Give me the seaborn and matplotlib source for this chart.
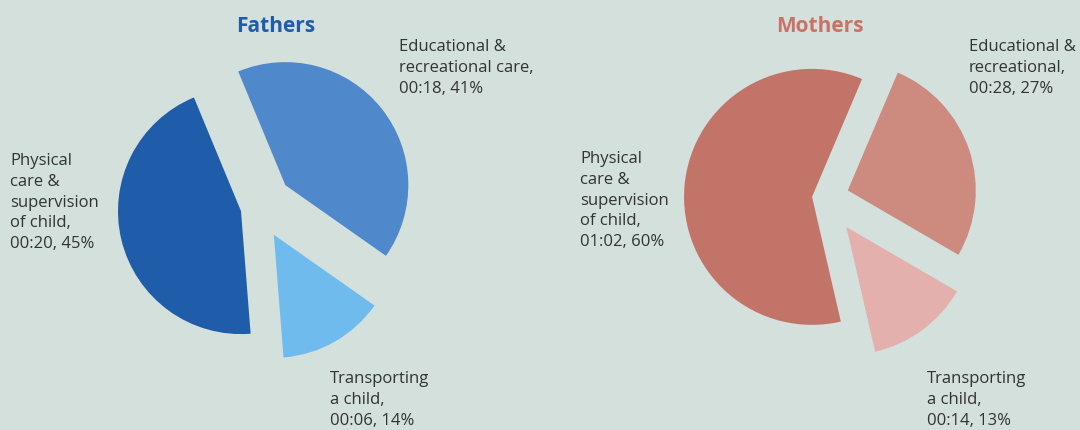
import matplotlib
matplotlib.use("Agg")
import matplotlib.pyplot as plt
import seaborn as sns

# slices listed clockwise from the top edge of the educational slice
categories = ["Educational & recreational care", "Transporting a child", "Physical care & supervision of child"]
fathers_pct = [41, 14, 45]
mothers_pct = [27, 13, 60]
fathers_time = ["00:18", "00:06", "00:20"]
mothers_time = ["00:28", "00:14", "01:02"]
fathers_names = ["Educational &\nrecreational care,", "Transporting\na child,",
                 "Physical\ncare &\nsupervision\nof child,"]
mothers_names = ["Educational &\nrecreational,", "Transporting\na child,",
                 "Physical\ncare &\nsupervision\nof child,"]

bg = "#d3e0dc"
txt = "#333333"
fathers_colors = sns.color_palette(["#4f88cb", "#6fbbee", "#1f5daa"])
mothers_colors = sns.color_palette(["#cd8b80", "#e3b0ad", "#c37468"])

sns.set_theme(style="white")
plt.rcParams["font.family"] = ["Open Sans", "DejaVu Sans"]

fig = plt.figure(figsize=(10.8, 4.3), dpi=100, facecolor=bg)
ax = fig.add_axes([0, 0, 1, 1])
ax.set_facecolor(bg)
H = 430

# pies in pixel coordinates (y up); explode is in data units here
ax.pie(fathers_pct, colors=fathers_colors, startangle=112.5, counterclock=False,
       explode=[35, 32, 17.5], center=(258, H - 207), radius=123,
       wedgeprops=dict(linewidth=0))
ax.pie(mothers_pct, colors=mothers_colors, startangle=67, counterclock=False,
       explode=[24, 36, 13], center=(825, H - 198), radius=128,
       wedgeprops=dict(linewidth=0))
ax.set_xlim(0, 1080)
ax.set_ylim(0, H)
ax.set_aspect("equal")
ax.axis("off")

ax.text(276, H - 26, "Fathers", ha="center", va="center", fontsize=15,
        fontweight="bold", color="#1f5daa")
ax.text(820, H - 26, "Mothers", ha="center", va="center", fontsize=15,
        fontweight="bold", color="#c97366")

# label positions (top-left of each block)
fathers_pos = [(399, 39), (330, 371), (10, 153)]
mothers_pos = [(969, 39), (927, 371), (580, 151)]


def label(names, times, pcts, positions):
    for name, t, p, (x, y) in zip(names, times, pcts, positions):
        ax.text(x, H - y, f"{name}\n{t}, {p}%", ha="left", va="top",
                fontsize=12, color=txt, linespacing=1.4)


label(fathers_names, fathers_time, fathers_pct, fathers_pos)
label(mothers_names, mothers_time, mothers_pct, mothers_pos)

fig.savefig("out.png", dpi=100, facecolor=bg)
